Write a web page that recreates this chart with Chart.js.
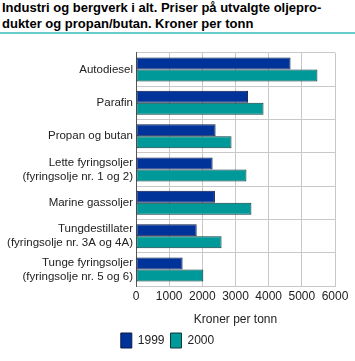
<!DOCTYPE html>
<html><head><meta charset="utf-8">
<script src="https://cdn.jsdelivr.net/npm/chart.js@4/dist/chart.umd.min.js"></script>
<style>
html,body{margin:0;padding:0;background:#fff;}
#wrap{position:relative;width:355px;height:361px;overflow:hidden;}
#title{position:absolute;left:2px;top:0px;width:353px;font:bold 13px "Liberation Sans",Arial,sans-serif;line-height:16px;color:#000;white-space:nowrap;}
#rule{position:absolute;left:0;top:32px;width:355px;height:2px;background:#66cccc;}
#cv{position:absolute;left:0;top:36px;}
</style></head>
<body><div id="wrap">
<div id="title">Industri og bergverk i alt. Priser på utvalgte oljepro-<br>dukter og propan/butan. Kroner per tonn</div>
<div id="rule"></div>
<canvas id="cv" width="355" height="325"></canvas>
</div>
<script>
const categories = [
  ["Autodiesel"],
  ["Parafin"],
  ["Propan og butan"],
  ["Lette fyringsoljer","(fyringsolje nr. 1 og 2)"],
  ["Marine gassoljer"],
  ["Tungdestillater","(fyringsolje nr. 3A og 4A)"],
  ["Tunge fyringsoljer","(fyringsolje nr. 5 og 6)"]
];
const seriesNames = ["1999","2000"];
const values1999 = [4660, 3380, 2400, 2310, 2380, 1830, 1405];
const values2000 = [5470, 3845, 2880, 3330, 3480, 2580, 2030];
const xTicks = [0,1000,2000,3000,4000,5000,6000];
const axisTitle = "Kroner per tonn";

const FONT = "Liberation Sans";
new Chart(document.getElementById('cv'), {
  type: 'bar',
  data: {
    labels: categories,
    datasets: [
      {label: seriesNames[0], data: values1999, backgroundColor:'#003399', borderColor:'#0a1a40', borderWidth:1, borderSkipped:false},
      {label: seriesNames[1], data: values2000, backgroundColor:'#009999', borderColor:'#0a3a3a', borderWidth:1, borderSkipped:false}
    ]
  },
  options: {
    indexAxis: 'y',
    responsive: false,
    animation: false,
    devicePixelRatio: 1,
    layout: {padding: {left:0, right:20, top:14, bottom:3}},
    datasets: {bar: {categoryPercentage:0.72, barPercentage:1.0}},
    scales: {
      x: {
        min: 0, max: 6000,
        afterBuildTicks: s => { s.ticks = xTicks.map(v => ({value:v})); },
        grid: {color:'#c8c8c8', lineWidth:1, drawTicks:false},
        border: {display:true, color:'#c8c8c8'},
        ticks: {color:'#222', font:{family:FONT, size:12}, padding:3, maxRotation:0, minRotation:0, autoSkip:false, callback: v => String(v)},
        title: {display:true, text:axisTitle, color:'#222', font:{family:FONT, size:12}, padding:{top:6,bottom:0}}
      },
      y: {
        afterFit: s => { s.width = 136; },
        grid: {color:'#c8c8c8', lineWidth:1, drawTicks:false, offset:true},
        border: {display:true, color:'#555', width:1},
        ticks: {color:'#222', font:{family:FONT, size:11.5}, padding:3, autoSkip:false}
      }
    },
    plugins: {
      legend: {
        position:'bottom',
        labels: {color:'#222', font:{family:FONT, size:12}, boxWidth:11, boxHeight:15, padding:6}
      },
      tooltip: {enabled:false},
      title: {display:false}
    }
  }
});
</script>
</body></html>
